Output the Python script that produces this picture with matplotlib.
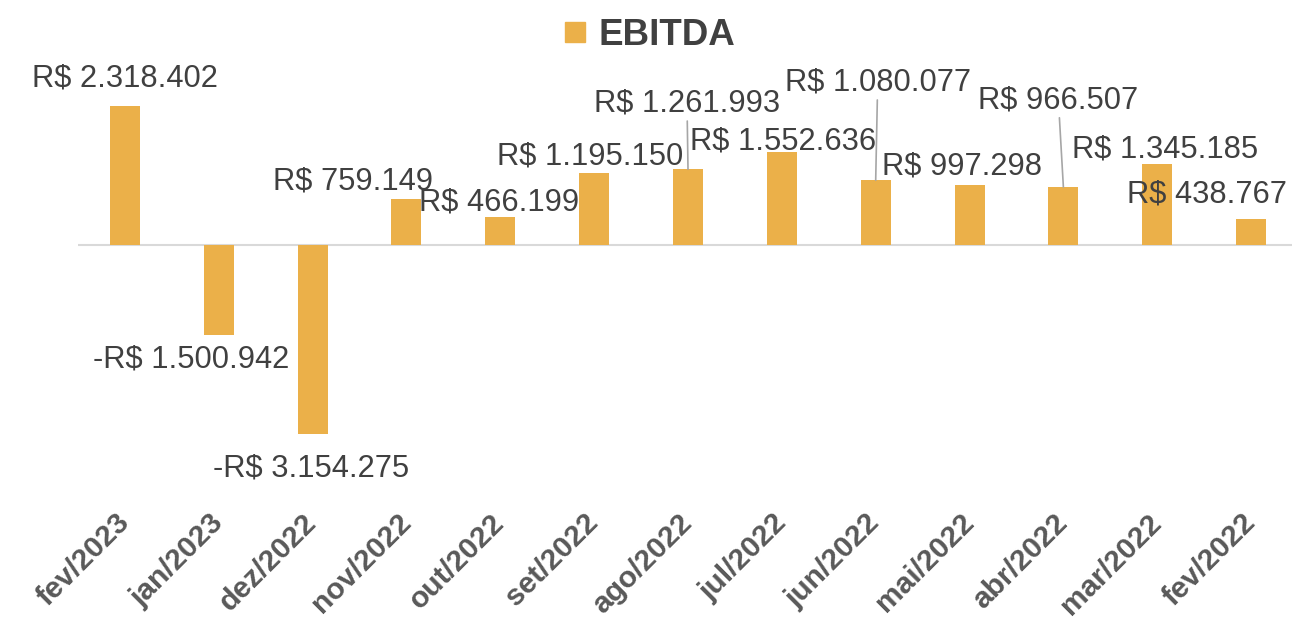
import matplotlib.pyplot as plt
from matplotlib.patches import Patch

# Dados
meses = ["fev/2023", "jan/2023", "dez/2022", "nov/2022", "out/2022", "set/2022",
         "ago/2022", "jul/2022", "jun/2022", "mai/2022", "abr/2022", "mar/2022", "fev/2022"]
ebitda = [2318402, -1500942, -3154275, 759149, 466199, 1195150,
          1261993, 1552636, 1080077, 997298, 966507, 1345185, 438767]

# deslocamento dos rótulos (pixels) e se têm linha de chamada
desloc = [(0, 27), (-28, -24), (-2, -34), (-53, 18), (-1, 15), (-4, 17),
          (-1, 66), (1, 10), (2, 98), (-8, 19), (-5, 87), (8, 15), (-44, 24)]
chamada = [False, False, False, False, False, False,
           True, False, True, False, True, False, False]

cor_barra = "#EBB049"
cor_texto = "#404040"


def formata(v):
    s = f"{abs(v):,}".replace(",", ".")
    return ("-R$ " if v < 0 else "R$ ") + s


plt.rcParams["font.family"] = ["Liberation Sans", "DejaVu Sans"]

fig = plt.figure(figsize=(12.92, 6.19), dpi=100)
ax = fig.add_axes([78 / 1292, 134 / 619, 1220 / 1292, 420 / 619])

x = range(len(meses))
ax.bar(x, ebitda, width=0.32, color=cor_barra, zorder=2)
ax.axhline(0, color="#d9d9d9", lw=1.5, zorder=1)

for i, v in enumerate(ebitda):
    props = None
    if chamada[i]:
        props = dict(arrowstyle="-", color="#a6a6a6", lw=1.2, shrinkA=0, shrinkB=0)
    ax.annotate(formata(v), xy=(i, v), xytext=desloc[i], textcoords="offset pixels",
                ha="center", va="center", fontsize=22.2, color=cor_texto,
                arrowprops=props, zorder=3)

ax.set_xlim(-0.5, len(meses) - 0.5)
ax.set_ylim(-4e6, 3e6)
ax.set_yticks([])
ax.set_xticks(list(x))
ax.set_xticklabels(meses, rotation=45, ha="right", va="center", rotation_mode="anchor",
                   fontsize=21.5, fontweight="bold", color="#595959")
ax.tick_params(axis="x", length=0, pad=24)
for s in ax.spines.values():
    s.set_visible(False)

fig.legend(handles=[Patch(color=cor_barra, label="EBITDA")], loc="upper center",
           bbox_to_anchor=(0.503, 1.024), frameon=False, handlelength=0.55, handleheight=0.47,
           handletextpad=0.35, prop=dict(size=26.5, weight="bold"), labelcolor=cor_texto)

fig.savefig("out.png", dpi=100)
